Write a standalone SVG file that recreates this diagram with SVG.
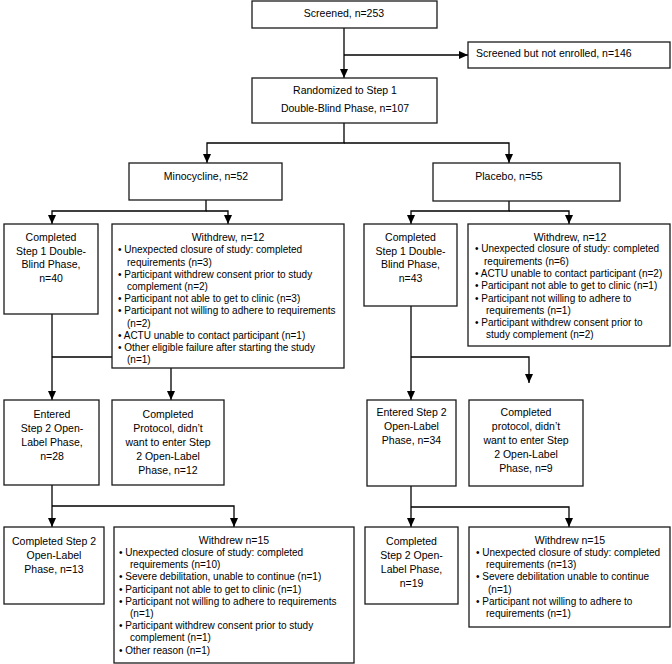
<svg xmlns="http://www.w3.org/2000/svg" width="672" height="664" viewBox="0 0 672 664">
<defs>
<marker id="ah" markerUnits="userSpaceOnUse" markerWidth="9" markerHeight="9" refX="9" refY="4" orient="auto">
<path d="M0,0 L9,4 L0,8 z" fill="#000"/>
</marker>
<style>
.box{fill:#fff;stroke:#1a1a1a;stroke-width:1.3}
.t{font-family:"Liberation Sans",Arial,sans-serif;font-size:10.5px;fill:#000;text-anchor:middle}
.b{font-family:"Liberation Sans",Arial,sans-serif;font-size:10px;fill:#000}
.c{fill:none;stroke:#000;stroke-width:1.3}
</style>
</defs>
<rect width="672" height="664" fill="#fff"/>
<g id="connectors">
<path class="c" d="M344,28 V78" marker-end="url(#ah)"/>
<path class="c" d="M344,55 H468" marker-end="url(#ah)"/>
<path class="c" d="M344,123 V143 H207 V163" marker-end="url(#ah)"/>
<path class="c" d="M344,143 H509 V163" marker-end="url(#ah)"/>
<path class="c" d="M206,200 V211 H52 V224" marker-end="url(#ah)"/>
<path class="c" d="M206,211 H228 V224" marker-end="url(#ah)"/>
<path class="c" d="M509,201 V211 H411 V224" marker-end="url(#ah)"/>
<path class="c" d="M509,211 H569 V224" marker-end="url(#ah)"/>
<path class="c" d="M52,314 V400" marker-end="url(#ah)"/>
<path class="c" d="M52,357 H171 V400" marker-end="url(#ah)"/>
<path class="c" d="M411,306 V400" marker-end="url(#ah)"/>
<path class="c" d="M411,357 H529 V383" marker-end="url(#ah)"/>
<path class="c" d="M52,485 V527" marker-end="url(#ah)"/>
<path class="c" d="M52,506 H234 V527" marker-end="url(#ah)"/>
<path class="c" d="M411,486 V527" marker-end="url(#ah)"/>
<path class="c" d="M411,507 H569 V527" marker-end="url(#ah)"/>
</g>
<g id="screened">
<rect class="box" x="252" y="1" width="185" height="27"/>
<text class="t" x="344" y="17">Screened, n=253</text>
</g>
<g id="not-enrolled">
<rect class="box" x="468" y="42" width="202" height="26"/>
<text class="t" x="476" y="57" style="text-anchor:start">Screened but not enrolled, n=146</text>
</g>
<g id="randomized">
<rect class="box" x="252" y="78" width="185" height="45"/>
<text class="t" x="345" y="94">Randomized to Step 1</text>
<text class="t" x="345" y="112">Double-Blind Phase, n=107</text>
</g>
<g id="minocycline">
<rect class="box" x="129" y="163" width="153" height="37"/>
<text class="t" x="206" y="180">Minocycline, n=52</text>
</g>
<g id="placebo">
<rect class="box" x="433" y="163" width="187" height="38"/>
<text class="t" x="509" y="180">Placebo, n=55</text>
</g>
<g id="completed1-mino">
<rect class="box" x="4" y="224" width="94" height="90"/>
<text class="t" x="51" y="241">Completed</text>
<text class="t" x="51" y="254.5">Step 1 Double-</text>
<text class="t" x="51" y="268">Blind Phase,</text>
<text class="t" x="51" y="281.5">n=40</text>
</g>
<g id="withdrew1-mino">
<rect class="box" x="112" y="224" width="232" height="144"/>
<text class="t" x="228" y="241">Withdrew, n=12</text>
<g class="b">
<text x="118" y="253.3">• Unexpected closure of study: completed</text>
<text x="127" y="265.5">requirements (n=3)</text>
<text x="118" y="277.7">• Participant withdrew consent prior to study</text>
<text x="127" y="289.9">complement (n=2)</text>
<text x="118" y="302.1">• Participant not able to get to clinic (n=3)</text>
<text x="118" y="314.3">• Participant not willing to adhere to requirements</text>
<text x="127" y="326.5">(n=2)</text>
<text x="118" y="338.7">• ACTU unable to contact participant (n=1)</text>
<text x="118" y="350.9">• Other eligible failure after starting the study</text>
<text x="127" y="363.1">(n=1)</text>
</g>
</g>
<g id="completed1-placebo">
<rect class="box" x="364" y="224" width="93" height="82"/>
<text class="t" x="410.5" y="241">Completed</text>
<text class="t" x="410.5" y="254.5">Step 1 Double-</text>
<text class="t" x="410.5" y="268">Blind Phase,</text>
<text class="t" x="410.5" y="281.5">n=43</text>
</g>
<g id="withdrew1-placebo">
<rect class="box" x="468" y="224" width="202" height="122"/>
<text class="t" x="570" y="241">Withdrew, n=12</text>
<g class="b">
<text x="475" y="252.3">• Unexpected closure of study: completed</text>
<text x="484" y="264.6">requirements (n=6)</text>
<text x="475" y="276.9">• ACTU unable to contact participant (n=2)</text>
<text x="475" y="289.2">• Participant not able to get to clinic (n=1)</text>
<text x="475" y="301.5">• Participant not willing to adhere to</text>
<text x="486" y="313.8">requirements  (n=1)</text>
<text x="475" y="326.1">• Participant withdrew consent prior  to</text>
<text x="486" y="338.4">study complement (n=2)</text>
</g>
</g>
<g id="entered2-mino">
<rect class="box" x="4" y="400" width="95" height="85"/>
<text class="t" x="52" y="418">Entered</text>
<text class="t" x="52" y="432">Step 2 Open-</text>
<text class="t" x="52" y="446">Label Phase,</text>
<text class="t" x="52" y="460">n=28</text>
</g>
<g id="protocol-mino">
<rect class="box" x="112" y="400" width="112" height="85"/>
<text class="t" x="168" y="418">Completed</text>
<text class="t" x="168" y="432">Protocol, didn’t</text>
<text class="t" x="168" y="446">want to enter Step</text>
<text class="t" x="168" y="460">2 Open-Label</text>
<text class="t" x="168" y="474">Phase, n=12</text>
</g>
<g id="entered2-placebo">
<rect class="box" x="367" y="400" width="89" height="86"/>
<text class="t" x="411.5" y="416">Entered Step 2</text>
<text class="t" x="411.5" y="430">Open-Label</text>
<text class="t" x="411.5" y="444">Phase, n=34</text>
</g>
<g id="protocol-placebo">
<rect class="box" x="469" y="400" width="114" height="86"/>
<text class="t" x="526" y="416">Completed</text>
<text class="t" x="526" y="430">protocol, didn’t</text>
<text class="t" x="526" y="444">want to enter Step</text>
<text class="t" x="526" y="458">2 Open-Label</text>
<text class="t" x="526" y="472">Phase, n=9</text>
</g>
<g id="completed2-mino">
<rect class="box" x="4" y="527" width="100" height="77"/>
<text class="t" x="54" y="545">Completed Step 2</text>
<text class="t" x="54" y="559">Open-Label</text>
<text class="t" x="54" y="573">Phase, n=13</text>
</g>
<g id="withdrew2-mino">
<rect class="box" x="114" y="527" width="240" height="136"/>
<text class="t" x="234" y="544">Withdrew n=15</text>
<g class="b">
<text x="119" y="556">• Unexpected closure of study: completed</text>
<text x="130" y="568.2">requirements (n=10)</text>
<text x="119" y="580.4">• Severe debilitation, unable to continue (n=1)</text>
<text x="119" y="592.6">• Participant not able to get to clinic (n=1)</text>
<text x="119" y="604.8">• Participant not willing to adhere to requirements</text>
<text x="130" y="617">(n=1)</text>
<text x="119" y="629.2">• Participant  withdrew  consent prior to study</text>
<text x="130" y="641.4">complement (n=1)</text>
<text x="119" y="653.6">• Other reason (n=1)</text>
</g>
</g>
<g id="completed2-placebo">
<rect class="box" x="365" y="527" width="93" height="77"/>
<text class="t" x="411.5" y="545">Completed</text>
<text class="t" x="411.5" y="559">Step 2 Open-</text>
<text class="t" x="411.5" y="573">Label Phase,</text>
<text class="t" x="411.5" y="587">n=19</text>
</g>
<g id="withdrew2-placebo">
<rect class="box" x="469" y="527" width="201" height="100"/>
<text class="t" x="570" y="544">Withdrew n=15</text>
<g class="b">
<text x="476" y="555.5">• Unexpected closure of study: completed</text>
<text x="486" y="568">requirements (n=13)</text>
<text x="476" y="580.3">• Severe debilitation unable to continue</text>
<text x="488" y="592.5">(n=1)</text>
<text x="476" y="604.7">• Participant not willing to adhere to</text>
<text x="486" y="617">requirements  (n=1)</text>
</g>
</g>
</svg>
